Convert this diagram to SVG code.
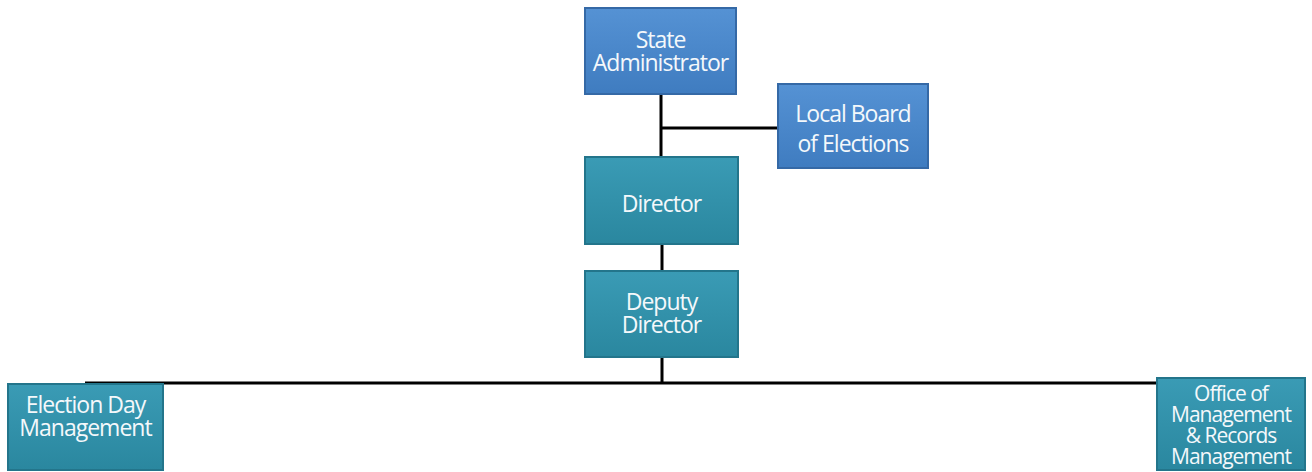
<svg xmlns="http://www.w3.org/2000/svg" width="1312" height="472" viewBox="0 0 1312 472">
<defs>
<linearGradient id="gb" x1="0" y1="0" x2="0" y2="1"><stop offset="0" stop-color="#5592d4"/><stop offset="1" stop-color="#3f7cc0"/></linearGradient>
<linearGradient id="gt" x1="0" y1="0" x2="0" y2="1"><stop offset="0" stop-color="#3a9bb5"/><stop offset="1" stop-color="#2a879f"/></linearGradient>
</defs>
<style>
.blue{fill:url(#gb);stroke:#3569a6;stroke-width:2}
.teal{fill:url(#gt);stroke:#23758b;stroke-width:2}
.t{font-family:"Open Sans","Liberation Sans",sans-serif;font-size:23px;fill:#f4f8fb;text-anchor:middle;letter-spacing:-1px}
.s{font-size:21px}
.c{stroke:#000;stroke-width:3;fill:none}
</style>
<rect width="1312" height="472" fill="#fff"/>
<g id="connectors">
<path class="c" d="M661 94V158M661 128H778"/>
<path class="c" d="M662 244V271"/>
<path class="c" d="M662 357V383M85 383H1238"/>
</g>
<g id="state-admin"><rect class="blue" x="585" y="8" width="151" height="86"/><text class="t" x="660.5" y="48">State</text><text class="t" x="660.5" y="71">Administrator</text></g>
<g id="local-board"><rect class="blue" x="778" y="84" width="150" height="84"/><text class="t" x="853" y="122">Local Board</text><text class="t" x="853" y="152">of Elections</text></g>
<g id="director"><rect class="teal" x="585" y="157" width="153" height="87"/><text class="t" x="661.5" y="212">Director</text></g>
<g id="deputy"><rect class="teal" x="585" y="271" width="153" height="86"/><text class="t" x="661.5" y="310">Deputy</text><text class="t" x="661.5" y="333">Director</text></g>
<g id="election-day"><rect class="teal" x="8" y="384" width="155" height="86"/><text class="t" x="85.5" y="413">Election Day</text><text class="t" x="85.5" y="436">Management</text></g>
<g id="office"><rect class="teal" x="1157" y="378" width="148" height="92"/><text class="t s" x="1231" y="401">Office of</text><text class="t s" x="1231" y="422">Management</text><text class="t s" x="1231" y="443">&amp; Records</text><text class="t s" x="1231" y="464">Management</text></g>
</svg>
